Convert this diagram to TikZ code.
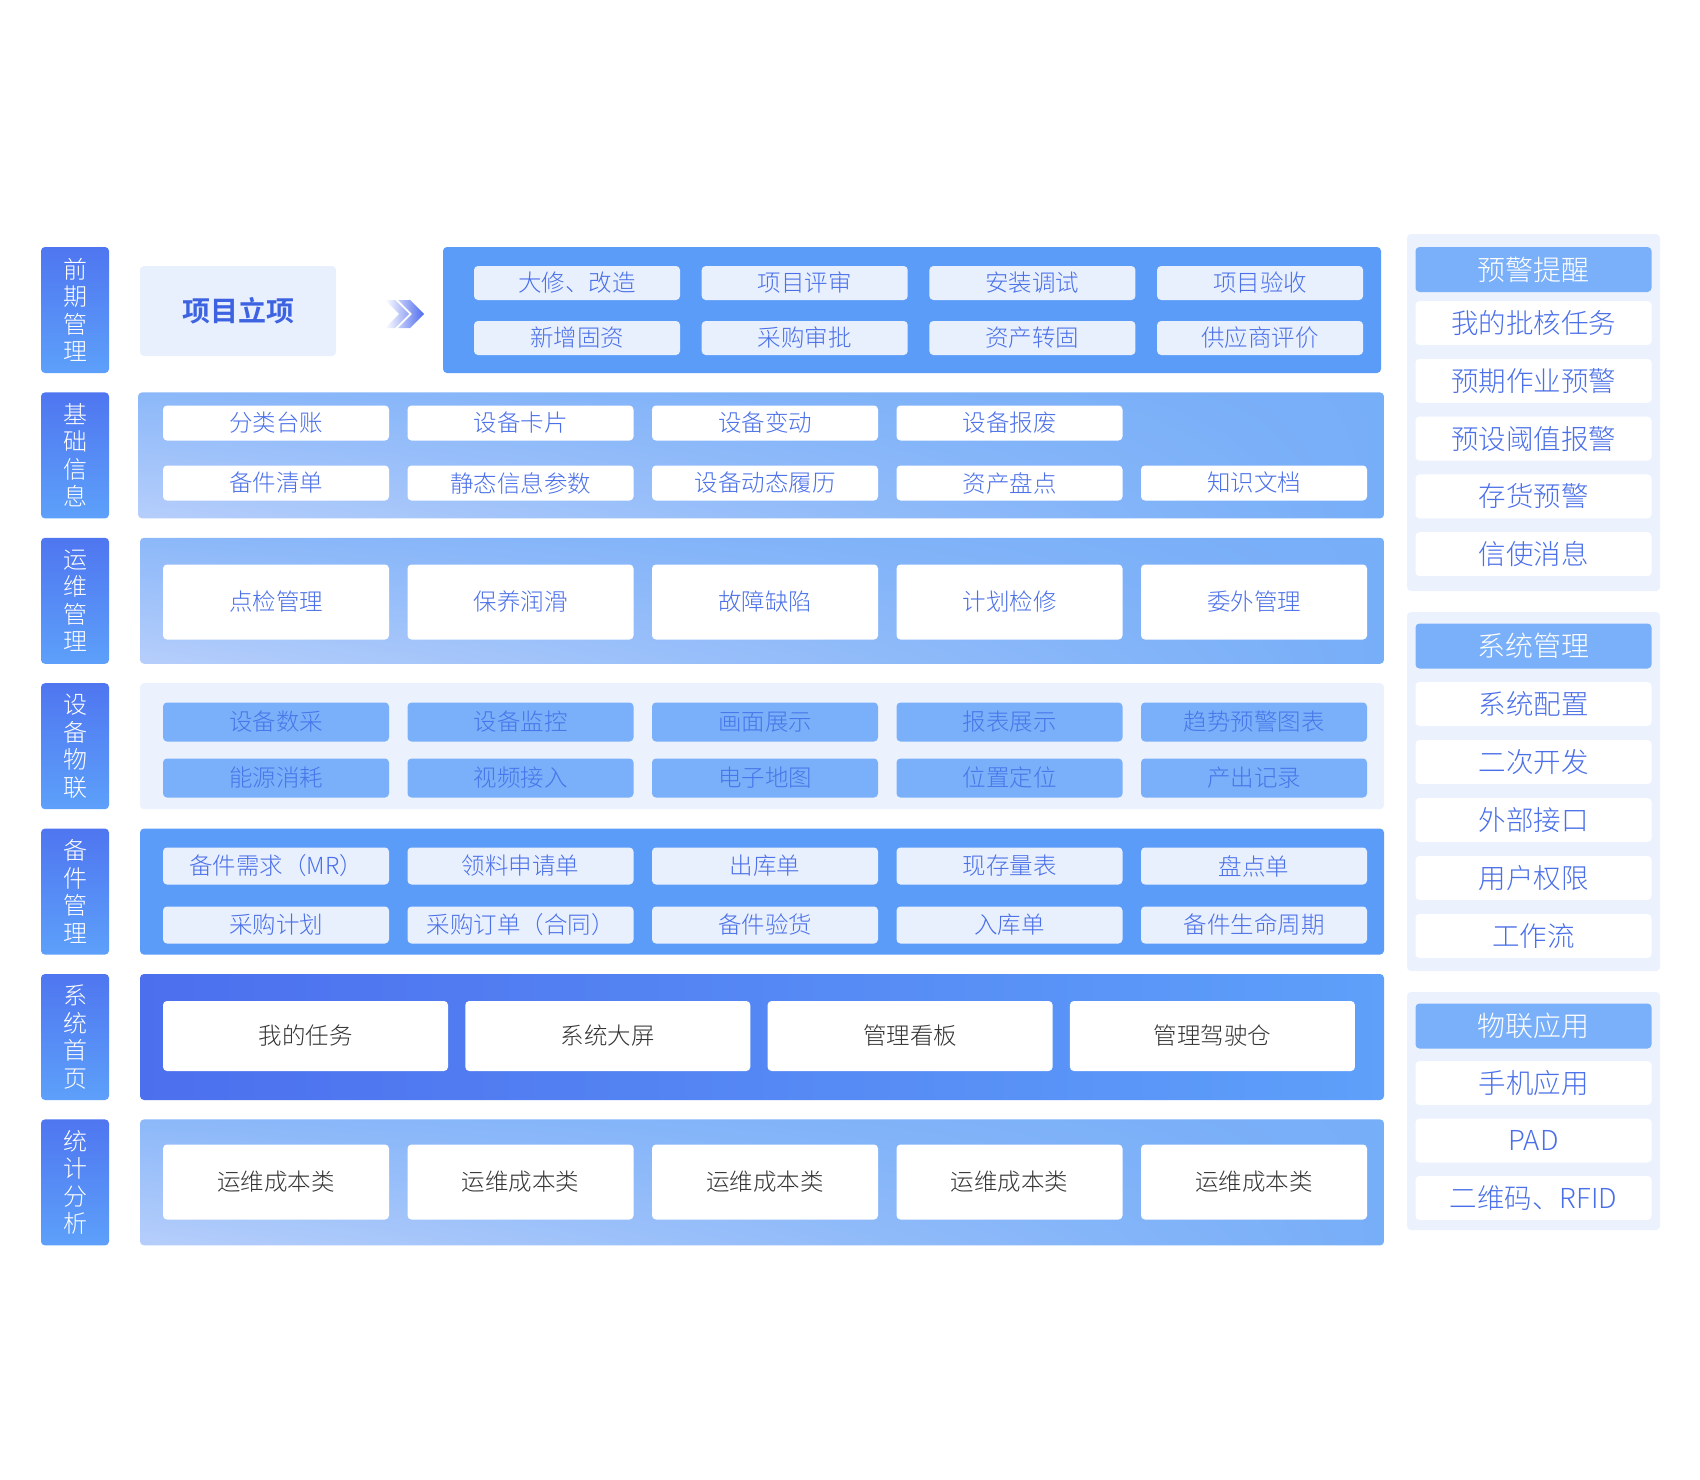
\documentclass[tikz,border=0pt]{standalone}
\usepackage{fontspec}
\setmainfont{Noto Sans CJK SC}[UprightFont=* Light, BoldFont=* Bold]
\usetikzlibrary{shadings}
\definecolor{lblTop}{HTML}{4F76F0}
\definecolor{lblBot}{HTML}{5DA0FA}
\definecolor{blueBox}{HTML}{5C9CF9}
\definecolor{paleBox}{HTML}{E8F0FE}
\definecolor{paleBg}{HTML}{EBF2FE}
\definecolor{midBlue}{HTML}{7AB0F9}
\definecolor{txtBlue}{HTML}{4A6FE8}
\definecolor{txtBlueB}{HTML}{4676EA}
\definecolor{txtGray}{HTML}{333333}
\definecolor{grLight}{HTML}{B6CEFB}
\definecolor{grMid}{HTML}{8CB8F9}
\definecolor{grDark}{HTML}{77AEF8}
\definecolor{homeL}{HTML}{4C6FEE}
\definecolor{homeR}{HTML}{5EA0FA}
\definecolor{arrowC}{HTML}{4F6CEE}
\definecolor{titleTxt}{HTML}{3D63E0}
\tikzset{
  bx/.style={inner sep=0pt, outer sep=0pt, rounded corners=4pt, align=center},
  lbl/.style={bx, top color=lblTop, bottom color=lblBot, minimum width=68pt, minimum height=126pt, text=white, font=\fontsize{24}{27.5}\selectfont},
  solidpanel/.style={bx, fill=blueBox, minimum height=126pt},
  gradpanel/.style={bx, upper left=grMid, upper right=grDark, lower left=grLight, lower right=grDark, minimum width=1244pt, minimum height=126pt},
  palepanel/.style={bx, fill=paleBg, minimum width=1244pt, minimum height=126pt},
  homepanel/.style={bx, left color=homeL, right color=homeR, minimum width=1244pt, minimum height=126pt},
  paleitem/.style={bx, fill=paleBox, text=txtBlue, font=\fontsize{23.5}{26}\selectfont},
  whiteitem/.style={bx, fill=white, text=txtBlue, font=\fontsize{23.5}{26}\selectfont},
  grayitem/.style={bx, fill=white, text=txtGray, font=\fontsize{23.5}{26}\selectfont},
  blueitem/.style={bx, fill=midBlue, text=txtBlueB, font=\fontsize{23.5}{26}\selectfont},
  sidepanel/.style={bx, fill=paleBg, minimum width=253pt},
  sidehead/.style={bx, fill=midBlue, text=white, minimum width=236pt, minimum height=45pt, font=\fontsize{28}{30}\selectfont},
  sideitem/.style={bx, fill=white, text=txtBlue, minimum width=236pt, minimum height=44pt, font=\fontsize{27.5}{30}\selectfont},
}
\begin{document}
\begin{tikzpicture}[x=1pt, y=-1pt]
\fill[white] (0,0) rectangle (1700,1480);
\useasboundingbox (0,0) rectangle (1700,1480);

% left labels
\foreach \t [count=\i from 0] in {前\\期\\管\\理, 基\\础\\信\\息, 运\\维\\管\\理, 设\\备\\物\\联, 备\\件\\管\\理, 系\\统\\首\\页, 统\\计\\分\\析}
  \node[lbl] (lab\i) at (75, {310+145.4*\i}) {\t};

% row 1
\node[bx, fill=paleBox, minimum width=196pt, minimum height=90pt, text=titleTxt, font=\fontsize{28}{30}\selectfont\bfseries] (proj) at (238,311) {项目立项};
\shade[left color=white, right color=arrowC]
  (385,300) -- (395,300) -- (409,314) -- (395,328) -- (385,328) -- (399,314) -- cycle
  (398,300) -- (410,300) -- (424,314) -- (410,328) -- (398,328) -- (412,314) -- cycle;
\node[solidpanel, minimum width=938pt] (p1) at (912,310) {};
\foreach \t [count=\i from 0] in {大修、改造,项目评审,安装调试,项目验收}
  \node[paleitem, minimum width=206pt, minimum height=34pt] (r1a\i) at ({577+227.7*\i},283) {\t};
\foreach \t [count=\i from 0] in {新增固资,采购审批,资产转固,供应商评价}
  \node[paleitem, minimum width=206pt, minimum height=34pt] (r1b\i) at ({577+227.7*\i},338) {\t};

% row 2
\node[gradpanel, minimum width=1246pt] (p2) at (761,455.4) {};
\foreach \t [count=\i from 0] in {分类台账,设备卡片,设备变动,设备报废}
  \node[whiteitem, minimum width=226pt, minimum height=35pt] (r2a\i) at ({276+244.5*\i},423) {\t};
\foreach \t [count=\i from 0] in {备件清单,静态信息参数,设备动态履历,资产盘点,知识文档}
  \node[whiteitem, minimum width=226pt, minimum height=35pt] (r2b\i) at ({276+244.5*\i},483) {\t};

% row 3
\node[gradpanel] (p3) at (762,600.8) {};
\foreach \t [count=\i from 0] in {点检管理,保养润滑,故障缺陷,计划检修,委外管理}
  \node[whiteitem, minimum width=226pt, minimum height=75pt] (r3\i) at ({276+244.5*\i},602) {\t};

% row 4
\node[palepanel] (p4) at (762,746.2) {};
\foreach \t [count=\i from 0] in {设备数采,设备监控,画面展示,报表展示,趋势预警图表}
  \node[blueitem, minimum width=226pt, minimum height=39pt] (r4a\i) at ({276+244.5*\i},722) {\t};
\foreach \t [count=\i from 0] in {能源消耗,视频接入,电子地图,位置定位,产出记录}
  \node[blueitem, minimum width=226pt, minimum height=39pt] (r4b\i) at ({276+244.5*\i},778) {\t};

% row 5
\node[solidpanel, minimum width=1244pt] (p5) at (762,891.6) {};
\foreach \t [count=\i from 0] in {备件需求（MR）,领料申请单,出库单,现存量表,盘点单}
  \node[paleitem, minimum width=226pt, minimum height=37pt] (r5a\i) at ({276+244.5*\i},866) {\t};
\foreach \t [count=\i from 0] in {采购计划,采购订单（合同）,备件验货,入库单,备件生命周期}
  \node[paleitem, minimum width=226pt, minimum height=37pt] (r5b\i) at ({276+244.5*\i},925) {\t};

% row 6
\node[homepanel] (p6) at (762,1037) {};
\foreach \t [count=\i from 0] in {我的任务,系统大屏,管理看板,管理驾驶仓}
  \node[grayitem, minimum width=285pt, minimum height=70pt] (r6\i) at ({305.5+302.3*\i},1036) {\t};

% row 7
\node[gradpanel] (p7) at (762,1182.4) {};
\foreach \t [count=\i from 0] in {运维成本类,运维成本类,运维成本类,运维成本类,运维成本类}
  \node[grayitem, minimum width=226pt, minimum height=75pt] (r7\i) at ({276+244.5*\i},1182) {\t};

% right side panels
\node[sidepanel, minimum height=357pt] (s1) at (1533.5,412.5) {};
\node[sidehead] (s1h) at (1533.5,269.5) {预警提醒};
\foreach \t [count=\i from 0] in {我的批核任务,预期作业预警,预设阈值报警,存货预警,信使消息}
  \node[sideitem] (s1i\i) at (1533.5,{323+57.8*\i}) {\t};

\node[sidepanel, minimum height=359pt] (s2) at (1533.5,791.5) {};
\node[sidehead] (s2h) at (1533.5,646) {系统管理};
\foreach \t [count=\i from 0] in {系统配置,二次开发,外部接口,用户权限,工作流}
  \node[sideitem] (s2i\i) at (1533.5,{704+58*\i}) {\t};

\node[sidepanel, minimum height=238pt] (s3) at (1533.5,1111) {};
\node[sidehead] (s3h) at (1533.5,1026) {物联应用};
\foreach \t [count=\i from 0] in {手机应用,PAD,二维码、RFID}
  \node[sideitem] (s3i\i) at (1533.5,{1083+57.5*\i}) {\t};
\end{tikzpicture}
\end{document}
